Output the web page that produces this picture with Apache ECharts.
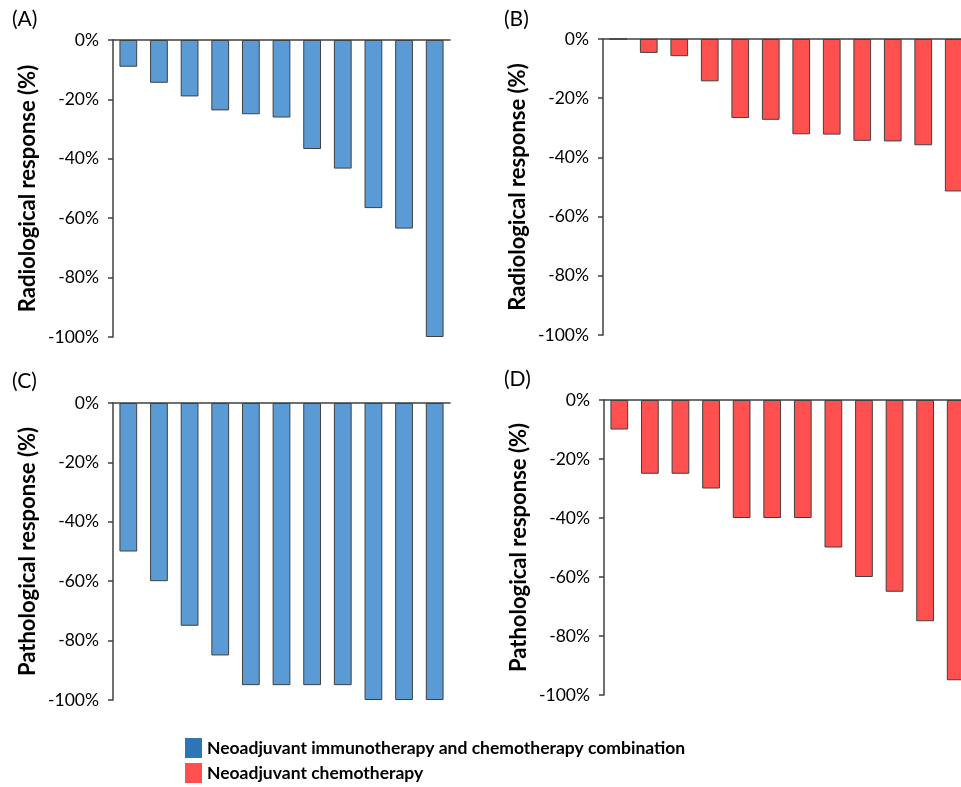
<!DOCTYPE html>
<html>
<head>
<meta charset="utf-8">
<script src="https://cdn.jsdelivr.net/npm/echarts@6/dist/echarts.min.js"></script>
<style>
html,body{margin:0;padding:0;background:#fff;overflow:hidden;}
#chart{width:980px;height:787px;}
</style>
</head>
<body>
<div id="chart"></div>
<script>
// Patients (categories)
const comboPatients = ['P1','P2','P3','P4','P5','P6','P7','P8','P9','P10','P11'];
const chemoPatients = ['P1','P2','P3','P4','P5','P6','P7','P8','P9','P10','P11','P12'];
// (A) Radiological response, immunotherapy + chemotherapy
const radioCombo = [-9, -14.4, -19, -23.7, -25, -26.1, -36.7, -43.3, -56.6, -63.5, -100];
// (B) Radiological response, chemotherapy
const radioChemo = [0, -4.7, -5.8, -14.3, -26.7, -27.3, -32.2, -32.3, -34.4, -34.6, -35.9, -51.5];
// (C) Pathological response, immunotherapy + chemotherapy
const pathoCombo = [-50, -60, -75, -85, -95, -95, -95, -95, -100, -100, -100];
// (D) Pathological response, chemotherapy
const pathoChemo = [-10, -25, -25, -30, -40, -40, -40, -50, -60, -65, -75, -95];
const yTicks = [0, -20, -40, -60, -80, -100];
const panelLabels = ['(A)', '(B)', '(C)', '(D)'];
const yTitles = ['Radiological response (%)', 'Radiological response (%)', 'Pathological response (%)', 'Pathological response (%)'];
const seriesNames = ['Neoadjuvant immunotherapy and chemotherapy combination', 'Neoadjuvant chemotherapy'];

const FONT = 'Lato';
const AXIS = '#404040';
const BLUE = '#5b9bd5', RED = '#ff5050';

const grids = [
  {left: 113, top: 40, width: 337, height: 297},
  {left: 603, top: 39, width: 366, height: 296},
  {left: 113, top: 403, width: 337, height: 297},
  {left: 604, top: 400, width: 367, height: 295}
];
const cats = [comboPatients, chemoPatients, comboPatients, chemoPatients];
const vals = [radioCombo, radioChemo, pathoCombo, pathoChemo];
const colors = [BLUE, RED, BLUE, RED];
const names = [seriesNames[0], seriesNames[1], seriesNames[0], seriesNames[1]];

const xAxis = cats.map((c, i) => ({
  type: 'category', gridIndex: i, data: c, position: 'top',
  axisLine: {lineStyle: {color: AXIS, width: 1.5}},
  axisTick: {show: false}, axisLabel: {show: false}
}));
const yAxis = cats.map((c, i) => ({
  type: 'value', gridIndex: i, min: yTicks[yTicks.length - 1], max: yTicks[0], interval: 20,
  name: yTitles[i], nameLocation: 'middle', nameGap: 74,
  nameTextStyle: {fontFamily: FONT, fontWeight: 'bold', fontSize: 22, color: '#000'},
  axisLine: {show: true, lineStyle: {color: AXIS, width: 1.5}},
  axisTick: {show: true, length: 5, lineStyle: {color: AXIS, width: 1.5}},
  axisLabel: {formatter: '{value}%', fontFamily: FONT, fontSize: 17.5, color: '#000', margin: 14},
  splitLine: {show: false}
}));
const series = vals.map((v, i) => ({
  type: 'bar', name: names[i], xAxisIndex: i, yAxisIndex: i, data: v,
  barCategoryGap: '42%',
  itemStyle: {color: colors[i], borderColor: AXIS, borderWidth: 1}
}));

const labelPos = [[12, 9], [504, 9], [12, 371], [504, 369]];
const graphic = panelLabels.map((t, i) => ({
  type: 'text', left: labelPos[i][0], top: labelPos[i][1],
  style: {text: t, fontFamily: FONT, fontSize: 21, fill: '#000'}
}));

const legendColors = ['#2e75b6', RED];
const legendTops = [738, 763];
const legend = seriesNames.map((n, i) => ({
  left: 185, top: legendTops[i], padding: 0, itemWidth: 17, itemHeight: 20,
  textStyle: {fontFamily: FONT, fontWeight: 'bold', fontSize: 17.5, color: '#000'},
  data: [{name: n, icon: 'rect', itemStyle: {color: legendColors[i], borderWidth: 0}}]
}));

const chart = echarts.init(document.getElementById('chart'));
chart.setOption({
  animation: false,
  grid: grids,
  xAxis: xAxis,
  yAxis: yAxis,
  series: series,
  graphic: graphic,
  legend: legend
});
</script>
</body>
</html>
